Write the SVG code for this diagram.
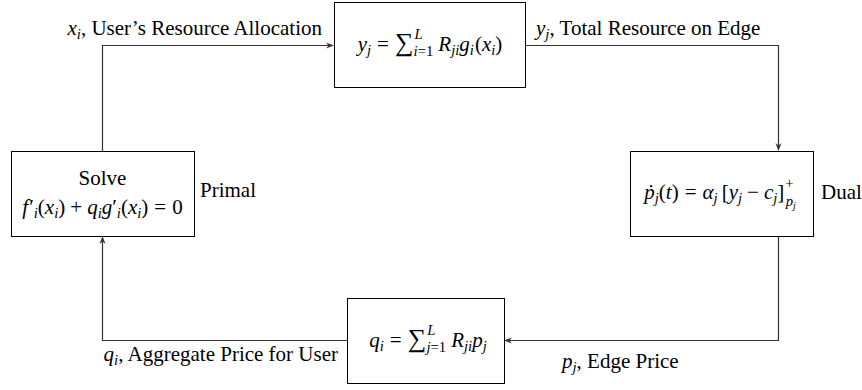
<svg xmlns="http://www.w3.org/2000/svg" width="862" height="390" viewBox="0 0 862 390">
<rect width="862" height="390" fill="#fff"/>
<g id="connectors" fill="none" stroke="#333" stroke-width="1.2">
<path d="M102.5,151 V45.5 H330"/>
<path d="M525,45.5 H778.5 V147"/>
<path d="M778.5,236 V340.5 H508"/>
<path d="M347,340.5 H102.5 V240"/>
<g fill="#333" stroke="none">
<polygon points="334,45.5 326,42.5 328.5,45.5 326,48.5"/>
<polygon points="778.5,151 775.5,143 778.5,145.5 781.5,143"/>
<polygon points="504,340.5 512,337.5 509.5,340.5 512,343.5"/>
<polygon points="102.5,236 99.5,244 102.5,241.5 105.5,244"/>
</g>
</g>
<g id="aggregate-node">
<rect x="334.5" y="2.5" width="191" height="85" fill="#fff" stroke="#000"/>
<text font-family="Liberation Serif" font-size="21" x="430" y="51" text-anchor="middle"><tspan font-style="italic">y</tspan><tspan font-size="14.7" font-style="italic" dy="4">j</tspan><tspan dx="6" dy="-4">=</tspan><tspan dx="6" font-size="26">∑</tspan><tspan font-size="14.7" font-style="italic" dx="1" dy="-12">L</tspan><tspan font-size="14.7" dx="-9" dy="17"><tspan font-style="italic">i</tspan>=1</tspan><tspan font-style="italic" dx="5" dy="-5">R</tspan><tspan font-size="14.7" font-style="italic" dy="4">ji</tspan><tspan font-style="italic" dy="-4">g</tspan><tspan font-size="14.7" font-style="italic" dy="4">i</tspan><tspan dx="1" dy="-4">(</tspan><tspan font-style="italic">x</tspan><tspan font-size="14.7" font-style="italic" dy="4">i</tspan><tspan dy="-4">)</tspan></text>
</g>
<g id="primal-node">
<rect x="11.5" y="151.5" width="183" height="85" fill="#fff" stroke="#000"/>
<text font-family="Liberation Serif" font-size="21" x="102.5" y="185" text-anchor="middle">Solve</text>
<text font-family="Liberation Serif" font-size="21" x="102.5" y="214" text-anchor="middle"><tspan font-style="italic">f</tspan><tspan dx="1">′</tspan><tspan font-size="14.7" font-style="italic" dy="4">i</tspan><tspan dy="-4">(</tspan><tspan font-style="italic">x</tspan><tspan font-size="14.7" font-style="italic" dy="4">i</tspan><tspan dy="-4">)</tspan><tspan dx="5">+</tspan><tspan font-style="italic" dx="5">q</tspan><tspan font-size="14.7" font-style="italic" dy="4">i</tspan><tspan font-style="italic" dy="-4">g</tspan><tspan>′</tspan><tspan font-size="14.7" font-style="italic" dy="4">i</tspan><tspan dy="-4">(</tspan><tspan font-style="italic">x</tspan><tspan font-size="14.7" font-style="italic" dy="4">i</tspan><tspan dy="-4">)</tspan><tspan dx="6">=</tspan><tspan dx="6">0</tspan></text>
<text font-family="Liberation Serif" font-size="21" x="200" y="197">Primal</text>
</g>
<g id="dual-node">
<rect x="630.5" y="151.5" width="183" height="85" fill="#fff" stroke="#000"/>
<text font-family="Liberation Serif" font-size="21" x="720" y="199" text-anchor="middle"><tspan font-style="italic">ṗ</tspan><tspan font-size="14.7" font-style="italic" dy="4">j</tspan><tspan dy="-4">(</tspan><tspan font-style="italic">t</tspan><tspan>)</tspan><tspan dx="6">=</tspan><tspan font-style="italic" dx="6">α</tspan><tspan font-size="14.7" font-style="italic" dy="4">j</tspan><tspan dx="4" dy="-4">[</tspan><tspan font-style="italic">y</tspan><tspan font-size="14.7" font-style="italic" dy="4">j</tspan><tspan dx="5" dy="-4">−</tspan><tspan font-style="italic" dx="5">c</tspan><tspan font-size="14.7" font-style="italic" dy="4">j</tspan><tspan dy="-4">]</tspan><tspan font-size="14.7" dx="1" dy="-11">+</tspan><tspan font-size="14.7" font-style="italic" dx="-8" dy="18">p</tspan><tspan font-style="italic" font-size="10" dy="3">j</tspan></text>
<text font-family="Liberation Serif" font-size="21" x="821" y="199">Dual</text>
</g>
<g id="price-node">
<rect x="347.5" y="298.5" width="157" height="85" fill="#fff" stroke="#000"/>
<text font-family="Liberation Serif" font-size="21" x="428" y="347" text-anchor="middle"><tspan font-style="italic">q</tspan><tspan font-size="14.7" font-style="italic" dy="4">i</tspan><tspan dx="6" dy="-4">=</tspan><tspan dx="6" font-size="26">∑</tspan><tspan font-size="14.7" font-style="italic" dx="1" dy="-12">L</tspan><tspan font-size="14.7" dx="-9" dy="17"><tspan font-style="italic">j</tspan>=1</tspan><tspan font-style="italic" dx="5" dy="-5">R</tspan><tspan font-size="14.7" font-style="italic" dy="4">ji</tspan><tspan font-style="italic" dy="-4">p</tspan><tspan font-size="14.7" font-style="italic" dy="4">j</tspan></text>
</g>
<g id="labels">
<text font-family="Liberation Serif" font-size="21" x="322" y="35" text-anchor="end"><tspan font-style="italic">x</tspan><tspan font-size="14.7" font-style="italic" dy="4">i</tspan><tspan dy="-4">, User’s Resource Allocation</tspan></text>
<text font-family="Liberation Serif" font-size="21" x="536" y="35"><tspan font-style="italic">y</tspan><tspan font-size="14.7" font-style="italic" dy="4">j</tspan><tspan dy="-4">, Total Resource on Edge</tspan></text>
<text font-family="Liberation Serif" font-size="21" x="338" y="361" text-anchor="end"><tspan font-style="italic">q</tspan><tspan font-size="14.7" font-style="italic" dy="4">i</tspan><tspan dy="-4">, Aggregate Price for User</tspan></text>
<text font-family="Liberation Serif" font-size="21" x="562" y="368"><tspan font-style="italic">p</tspan><tspan font-size="14.7" font-style="italic" dy="4">j</tspan><tspan dy="-4">, Edge Price</tspan></text>
</g>
</svg>
